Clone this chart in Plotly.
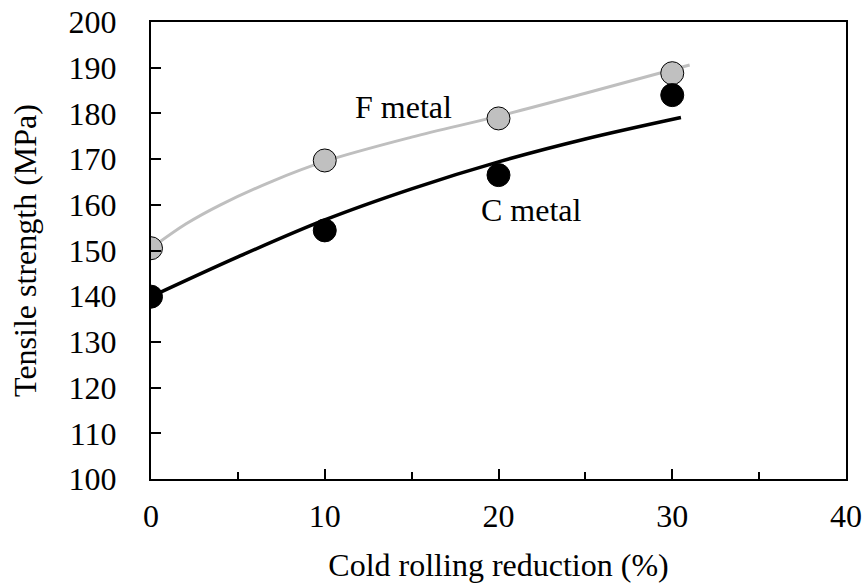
import plotly.graph_objects as go

# Measured data points
reduction = [0, 10, 20, 30]
f_metal = [150.5, 169.7, 178.9, 188.8]
c_metal = [139.9, 154.4, 166.5, 184.0]

# Trend curves
f_trend_x = [0, 2, 4, 7, 10, 15, 20, 25, 31]
f_trend_y = [150.5, 155.8, 160.0, 165.2, 169.5, 174.8, 179.4, 184.4, 190.6]
c_trend_x = [0, 5, 10, 15, 20, 25, 30.5]
c_trend_y = [139.9, 148.6, 156.7, 163.5, 169.4, 174.4, 179.1]

x_ticks = [0, 10, 20, 30, 40]
y_ticks = [100, 110, 120, 130, 140, 150, 160, 170, 180, 190, 200]

FONT = "Liberation Serif, Times New Roman, serif"
FS = 32

fig = go.Figure()
fig.add_trace(go.Scatter(x=f_trend_x, y=f_trend_y, mode="lines",
                         line=dict(color="#BFBFBF", width=3, shape="spline", smoothing=1),
                         showlegend=False, hoverinfo="skip"))
fig.add_trace(go.Scatter(x=c_trend_x, y=c_trend_y, mode="lines",
                         line=dict(color="#000000", width=3.5, shape="spline", smoothing=1),
                         showlegend=False, hoverinfo="skip"))
fig.add_trace(go.Scatter(x=reduction, y=f_metal, mode="markers",
                         marker=dict(size=23, color="#C0C0C0",
                                     line=dict(color="#000000", width=1)),
                         showlegend=False))
fig.add_trace(go.Scatter(x=reduction, y=c_metal, mode="markers",
                         marker=dict(size=23, color="#000000",
                                     line=dict(color="#000000", width=1)),
                         showlegend=False))

fig.add_annotation(x=11.6, y=181.5, text="F metal", showarrow=False,
                   xanchor="left", yanchor="middle",
                   font=dict(family=FONT, size=FS, color="#000000"))
fig.add_annotation(x=18.9, y=158.8, text="C metal", showarrow=False,
                   xanchor="left", yanchor="middle",
                   font=dict(family=FONT, size=FS, color="#000000"))

fig.update_layout(
    width=866, height=583,
    margin=dict(l=151, r=20, t=22, b=104, autoexpand=False),
    paper_bgcolor="white", plot_bgcolor="white",
    font=dict(family=FONT, size=FS, color="#000000"),
    showlegend=False,
)
fig.update_xaxes(
    range=[0, 40], tickvals=x_ticks, ticktext=[str(v) for v in x_ticks],
    ticks="inside", ticklen=10, tickwidth=2, tickcolor="#000000",
    minor=dict(dtick=5, ticks="inside", ticklen=7, tickwidth=2, tickcolor="#000000"),
    showline=True, linecolor="#000000", linewidth=2, mirror=True,
    showgrid=False, zeroline=False, automargin=False,
    ticklabelstandoff=8,
    title=dict(text="Cold rolling reduction (%)", standoff=20,
               font=dict(family=FONT, size=FS)),
    tickfont=dict(family=FONT, size=FS),
)
fig.update_yaxes(
    range=[100, 200], tickvals=y_ticks, ticktext=[str(v) for v in y_ticks],
    ticks="inside", ticklen=10, tickwidth=2, tickcolor="#000000",
    showline=True, linecolor="#000000", linewidth=2, mirror=True,
    showgrid=False, zeroline=False, automargin=False,
    ticklabelstandoff=26,
    title=dict(text="Tensile strength (MPa)", standoff=22,
               font=dict(family=FONT, size=FS)),
    tickfont=dict(family=FONT, size=FS),
)

fig.write_html("out.html")
